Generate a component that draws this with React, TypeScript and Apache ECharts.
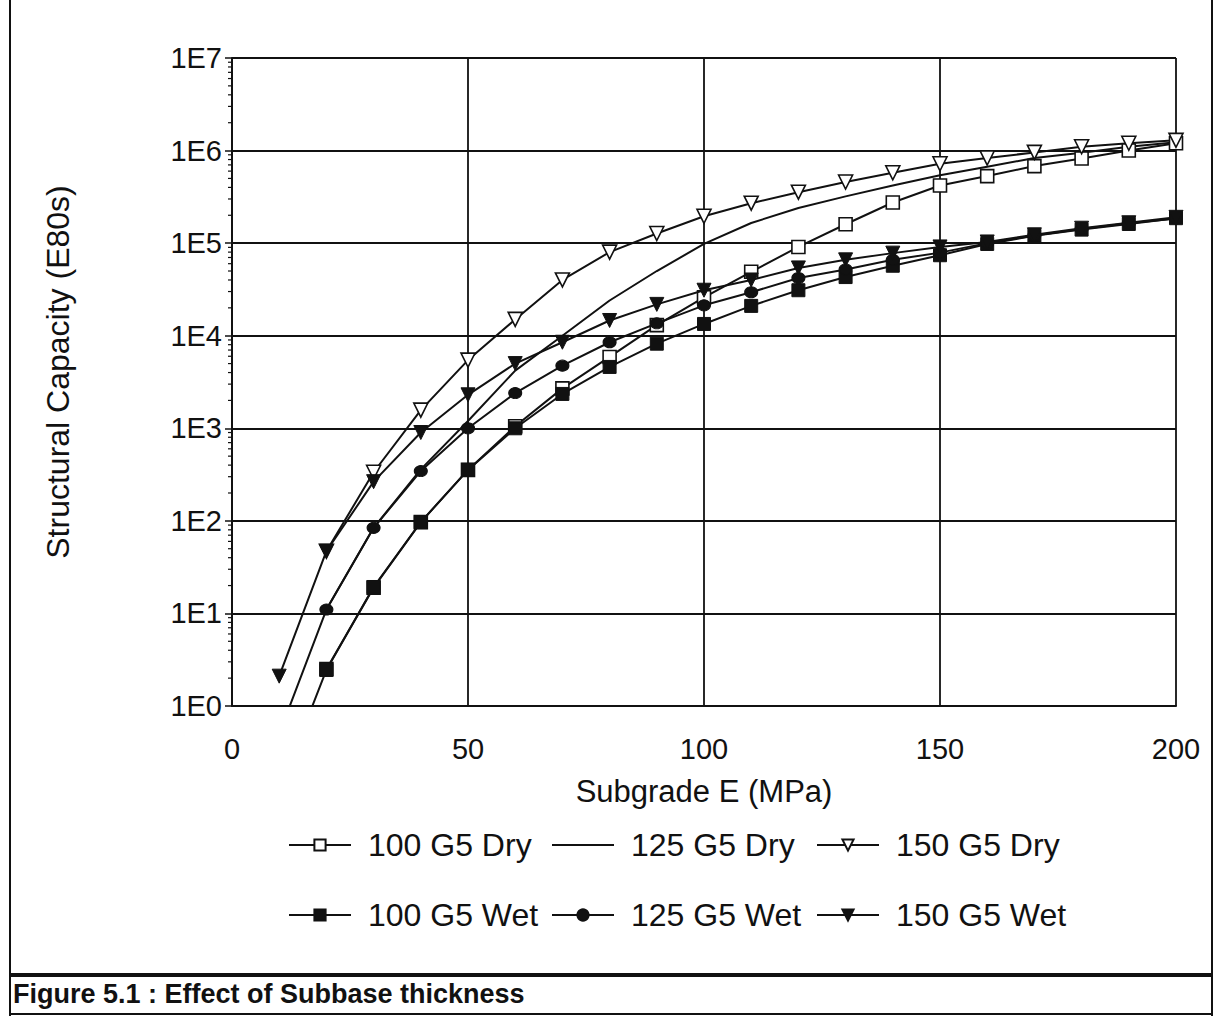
import React, { useEffect, useRef } from "react";
import * as echarts from "echarts";

const xValues = [10, 20, 30, 40, 50, 60, 70, 80, 90, 100, 110, 120, 130, 140, 150, 160, 170, 180, 190, 200];

const dry100 = [null, 2.5, 19, 97, 355, 1050, 2700, 5900, 13000, 26000, 49000, 91000, 160000, 275000, 420000, 530000, 680000, 820000, 1000000, 1200000];
const dry125 = [null, 11, 84, 360, 1200, 4200, 10000, 24000, 50000, 98000, 165000, 240000, 320000, 420000, 540000, 670000, 830000, 950000, 1100000, 1230000];
const dry150 = [null, 47, 335, 1570, 5450, 15000, 40000, 80000, 127000, 195000, 270000, 355000, 457000, 575000, 720000, 830000, 955000, 1100000, 1200000, 1290000];
const wet100 = [0.12, 2.45, 19.3, 97, 355, 1000, 2350, 4600, 8200, 13400, 21000, 31000, 43000, 57000, 74000, 98000, 120000, 140000, 161000, 186000];
const wet125 = [0.5, 11, 84, 345, 1000, 2400, 4750, 8500, 13600, 21300, 29500, 42000, 52000, 66000, 79000, 100000, 121000, 142000, 164000, 185000];
const wet150 = [2.1, 47, 265, 900, 2300, 5000, 8500, 14600, 21800, 31000, 40000, 54000, 66000, 78000, 91000, 103000, 123000, 145000, 166000, 190000];

const yTickLabels = ["1E0", "1E1", "1E2", "1E3", "1E4", "1E5", "1E6", "1E7"];
const minorMultipliers = [2, 3, 4, 5, 6, 7, 8, 9];
const decades = [1, 10, 100, 1000, 10000, 100000, 1000000];

const FONT = "'Liberation Sans', Arial, Helvetica, sans-serif";
const INK = "#111";

function pairs(ys: (number | null)[]) {
  const out: [number, number][] = [];
  xValues.forEach((x, i) => {
    const v = ys[i];
    if (v !== null && v !== undefined) out.push([x, v]);
  });
  return out;
}

export default function App() {
  const ref = useRef<HTMLDivElement>(null);

  useEffect(() => {
    if (!ref.current) return;
    const chart = echarts.init(ref.current, undefined, { renderer: "svg" });

    const minorData: [number, number][] = [];
    decades.forEach((d) => minorMultipliers.forEach((m) => minorData.push([0, m * d])));

    const openStyle = { color: "#fff", borderColor: INK, borderWidth: 1.6 };
    const filledStyle = { color: INK, borderColor: INK, borderWidth: 1 };
    const line = { color: INK, width: 2 };

    const legendBase = {
      orient: "vertical",
      top: 824,
      itemGap: 38,
      itemWidth: 62,
      itemHeight: 14,
      selectedMode: false,
      textStyle: { fontSize: 32, fontFamily: FONT, color: INK, padding: [0, 0, 0, 12], lineHeight: 32 },
    };

    const option: any = {
      animation: false,
      backgroundColor: "#fff",
      grid: { left: 232, top: 58, right: 42, bottom: 312, containLabel: false },
      xAxis: {
        type: "value",
        min: 0,
        max: 200,
        interval: 50,
        name: "Subgrade E (MPa)",
        nameLocation: "middle",
        nameGap: 70,
        nameTextStyle: { fontSize: 31, fontFamily: FONT, color: INK },
        axisLine: { show: true, lineStyle: { color: INK, width: 2 } },
        axisTick: { show: false },
        axisLabel: { fontSize: 29, fontFamily: FONT, color: INK, margin: 28 },
        splitLine: { show: true, lineStyle: { color: INK, width: 1.8 } },
      },
      yAxis: {
        type: "log",
        logBase: 10,
        min: 1,
        max: 10000000,
        name: "Structural Capacity (E80s)",
        nameLocation: "middle",
        nameGap: 158,
        nameTextStyle: { fontSize: 32, fontFamily: FONT, color: INK, padding: [0, 0, 0, 20] },
        axisLine: { show: true, lineStyle: { color: INK, width: 2 } },
        axisTick: { show: true, length: 7, lineStyle: { color: INK, width: 1.5 } },
        axisLabel: {
          fontSize: 29,
          fontFamily: FONT,
          color: INK,
          margin: 10,
          formatter: (v: number) => yTickLabels[Math.round(Math.log10(v))] ?? "",
        },
        splitLine: { show: true, lineStyle: { color: INK, width: 1.8 } },
      },
      legend: [
        { ...legendBase, left: 283, data: ["100 G5 Dry", "100 G5 Wet"] },
        { ...legendBase, left: 546, data: ["125 G5 Dry", "125 G5 Wet"] },
        { ...legendBase, left: 811, data: ["150 G5 Dry", "150 G5 Wet"] },
      ],
      graphic: [
        { type: "line", shape: { x1: 10, y1: 0, x2: 10, y2: 1016 }, style: { stroke: INK, lineWidth: 2 } },
        { type: "line", shape: { x1: 1212, y1: 0, x2: 1212, y2: 1016 }, style: { stroke: INK, lineWidth: 2 } },
        { type: "line", shape: { x1: 10, y1: 975, x2: 1212, y2: 975 }, style: { stroke: INK, lineWidth: 4 } },
        { type: "line", shape: { x1: 10, y1: 1014, x2: 1212, y2: 1014 }, style: { stroke: INK, lineWidth: 2 } },
        {
          type: "text",
          left: 13,
          top: 980,
          style: { text: "Figure 5.1 : Effect of Subbase thickness", font: `bold 27px ${FONT}`, fill: INK },
        },
      ],
      series: [
        {
          type: "custom",
          name: "minorTicks",
          silent: true,
          clip: false,
          data: minorData,
          renderItem: (params: any, api: any) => {
            const p = api.coord([api.value(0), api.value(1)]);
            return {
              type: "line",
              shape: { x1: p[0] - 4, y1: p[1], x2: p[0], y2: p[1] },
              style: { stroke: INK, lineWidth: 1.2 },
            };
          },
        },
        {
          name: "100 G5 Dry", type: "line", data: pairs(dry100), clip: true,
          symbol: "rect", symbolSize: 13, itemStyle: openStyle, lineStyle: line, z: 3,
        },
        {
          name: "125 G5 Dry", type: "line", data: pairs(dry125), clip: true,
          symbol: "circle", showSymbol: false, symbolSize: 1,
          itemStyle: { color: INK, opacity: 0, borderWidth: 0 }, lineStyle: line, z: 3,
        },
        {
          name: "150 G5 Dry", type: "line", data: pairs(dry150), clip: true,
          symbol: "triangle", symbolRotate: 180, symbolSize: 14, itemStyle: openStyle, lineStyle: line, z: 3,
        },
        {
          name: "100 G5 Wet", type: "line", data: pairs(wet100), clip: true,
          symbol: "rect", symbolSize: 13, itemStyle: filledStyle, lineStyle: line, z: 4,
        },
        {
          name: "125 G5 Wet", type: "line", data: pairs(wet125), clip: true,
          symbol: "circle", symbolSize: [13, 11], itemStyle: filledStyle, lineStyle: line, z: 4,
        },
        {
          name: "150 G5 Wet", type: "line", data: pairs(wet150), clip: true,
          symbol: "triangle", symbolRotate: 180, symbolSize: 14, itemStyle: filledStyle, lineStyle: line, z: 4,
        },
      ],
    };

    chart.setOption(option);
    return () => chart.dispose();
  }, []);

  return (
    <div
      ref={ref}
      style={{ position: "absolute", left: 0, top: 0, width: 1218, height: 1018, background: "#fff" }}
    />
  );
}
